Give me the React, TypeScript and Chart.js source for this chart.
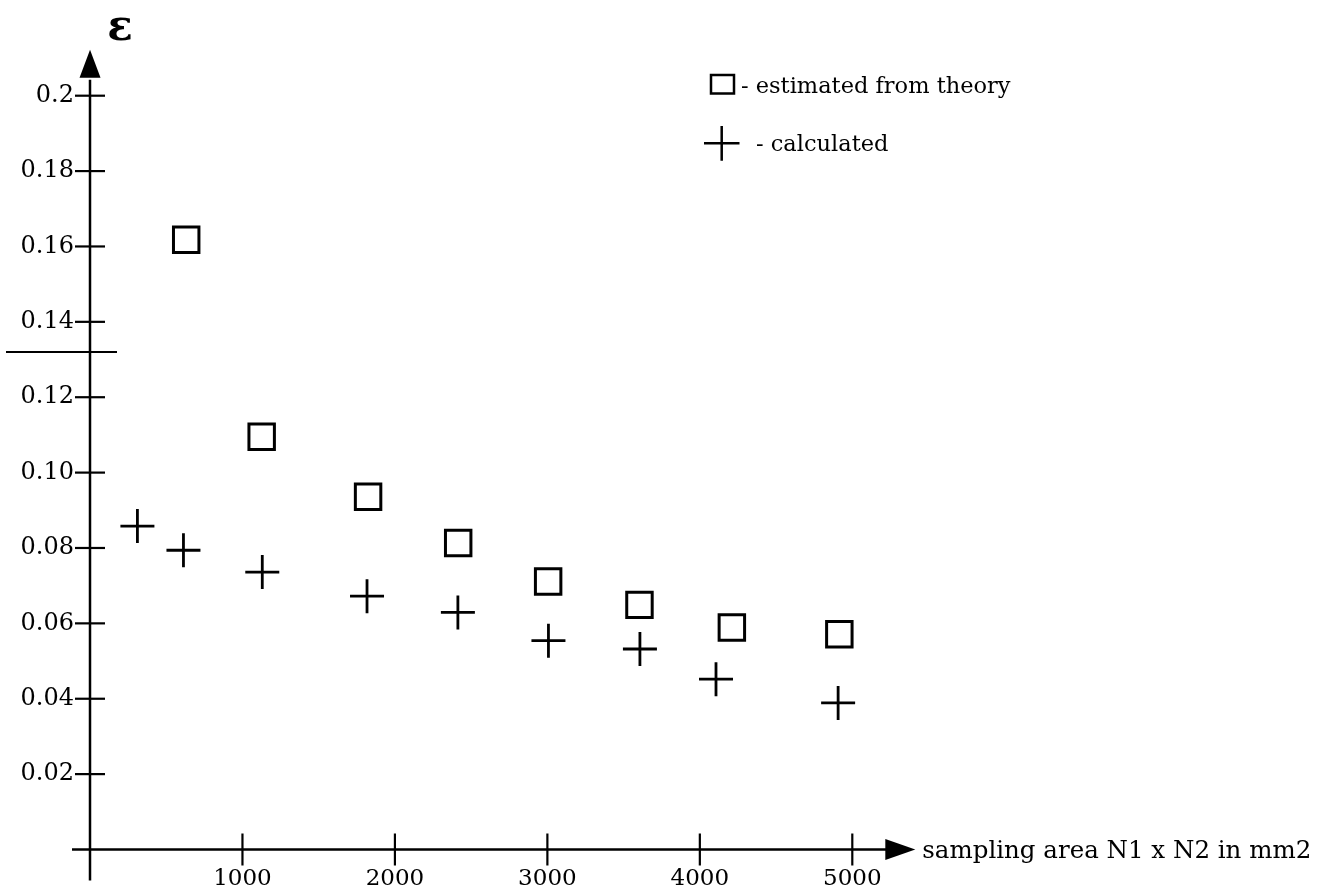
import React, { useEffect, useRef } from 'react';
import { Chart, registerables } from 'chart.js';

Chart.register(...registerables);

// ---- data ----
const theoryX = [631, 1126, 1824, 2415, 3005, 3604, 4210, 4915];
const theoryY = [0.1618, 0.1095, 0.0936, 0.0813, 0.0711, 0.0649, 0.0589, 0.0571];
const calcX = [311, 613, 1130, 1817, 2413, 3007, 3607, 4106, 4907];
const calcY = [0.0858, 0.0794, 0.0736, 0.0672, 0.0629, 0.0554, 0.0532, 0.0452, 0.0389];
const xTicks = [1000, 2000, 3000, 4000, 5000];
const yTicks = [0.02, 0.04, 0.06, 0.08, 0.1, 0.12, 0.14, 0.16, 0.18, 0.2];
const yTickLabels = ['0.02', '0.04', '0.06', '0.08', '0.10', '0.12', '0.14', '0.16', '0.18', '0.2'];
const strayLineValue = 0.132;
const legendLabels = ['- estimated from theory', '- calculated'];
const xTitle = 'sampling area N1 x N2 in mm2';
const yTitle = 'ε';

const FONT = '"DejaVu Serif", serif';

const decoPlugin = {
  id: 'deco',
  afterDraw(chart: any) {
    const { ctx } = chart;
    const xs = chart.scales.x;
    const ys = chart.scales.y;
    const x0 = xs.getPixelForValue(0);
    const y0 = ys.getPixelForValue(0);
    const xEnd = xs.getPixelForValue(5000);
    const yTop = ys.getPixelForValue(0.2);
    ctx.save();
    ctx.strokeStyle = '#000';
    ctx.fillStyle = '#000';
    ctx.lineWidth = 2.5;
    ctx.lineCap = 'butt';

    // x axis line + arrow
    ctx.beginPath();
    ctx.moveTo(x0 - 18, y0);
    ctx.lineTo(xEnd + 36, y0);
    ctx.stroke();
    ctx.beginPath();
    ctx.moveTo(xEnd + 33, y0 - 10.5);
    ctx.lineTo(xEnd + 63, y0);
    ctx.lineTo(xEnd + 33, y0 + 10.5);
    ctx.closePath();
    ctx.fill();

    // y axis line + arrow
    ctx.beginPath();
    ctx.moveTo(x0, y0 + 31);
    ctx.lineTo(x0, yTop - 16);
    ctx.stroke();
    ctx.beginPath();
    ctx.moveTo(x0 - 10.5, yTop - 18);
    ctx.lineTo(x0, yTop - 46);
    ctx.lineTo(x0 + 10.5, yTop - 18);
    ctx.closePath();
    ctx.fill();

    // crossing tick marks
    ctx.lineWidth = 2.2;
    xTicks.forEach((v) => {
      const px = xs.getPixelForValue(v);
      ctx.beginPath();
      ctx.moveTo(px, y0 - 16);
      ctx.lineTo(px, y0 + 16);
      ctx.stroke();
    });
    yTicks.forEach((v) => {
      const py = ys.getPixelForValue(v);
      ctx.beginPath();
      ctx.moveTo(x0 - 15, py);
      ctx.lineTo(x0 + 15, py);
      ctx.stroke();
    });

    // stray horizontal line
    const sy = ys.getPixelForValue(strayLineValue);
    ctx.lineWidth = 2;
    ctx.beginPath();
    ctx.moveTo(6, sy);
    ctx.lineTo(x0 + 27, sy);
    ctx.stroke();

    // y title (epsilon)
    ctx.font = `bold 42px ${FONT}`;
    ctx.textAlign = 'center';
    ctx.textBaseline = 'alphabetic';
    ctx.fillText(yTitle, x0 + 30, yTop - 56);

    // x title
    ctx.font = `24.5px ${FONT}`;
    ctx.textAlign = 'left';
    ctx.fillText(xTitle, xEnd + 70, y0 + 8);

    // legend
    ctx.lineWidth = 2.5;
    ctx.strokeRect(711, 75, 23, 18.5);
    ctx.beginPath();
    ctx.moveTo(704, 143.3);
    ctx.lineTo(739.5, 143.3);
    ctx.moveTo(721.7, 126);
    ctx.lineTo(721.7, 160.7);
    ctx.stroke();
    ctx.font = `22.5px ${FONT}`;
    ctx.fillText(legendLabels[0], 741, 93);
    ctx.fillText(legendLabels[1], 756, 151);

    ctx.restore();
  },
};

export default function App() {
  const ref = useRef<HTMLCanvasElement | null>(null);
  useEffect(() => {
    if (!ref.current) return;
    const chart = new Chart(ref.current, {
      type: 'scatter',
      data: {
        datasets: [
          {
            label: legendLabels[0],
            data: theoryX.map((x, i) => ({ x, y: theoryY[i] })),
            pointStyle: 'rect',
            pointRadius: 18,
            pointHoverRadius: 18,
            borderColor: '#000',
            backgroundColor: 'rgba(0,0,0,0)',
            pointBorderWidth: 3,
            showLine: false,
          },
          {
            label: legendLabels[1],
            data: calcX.map((x, i) => ({ x, y: calcY[i] })),
            pointStyle: 'cross',
            pointRadius: 17,
            pointHoverRadius: 17,
            borderColor: '#000',
            backgroundColor: '#000',
            pointBorderWidth: 2.8,
            showLine: false,
          },
        ],
      },
      options: {
        responsive: false,
        animation: false,
        events: [],
        clip: false,
        layout: { padding: { left: 0, right: 470.7, top: 95.7, bottom: 0 } },
        plugins: {
          legend: { display: false },
          tooltip: { enabled: false },
          title: { display: false },
        },
        scales: {
          x: {
            type: 'linear',
            min: 0,
            max: 5000,
            grid: { display: false, drawTicks: false },
            border: { display: false },
            afterBuildTicks: (scale: any) => {
              scale.ticks = xTicks.map((v) => ({ value: v }));
            },
            afterFit: (scale: any) => {
              scale.height = 44.5;
            },
            ticks: {
              color: '#000',
              padding: 16,
              maxRotation: 0,
              font: { family: FONT, size: 23 },
              callback: (v: any) => String(v),
            },
          },
          y: {
            type: 'linear',
            min: 0,
            max: 0.2,
            grid: { display: false, drawTicks: false },
            border: { display: false },
            afterBuildTicks: (scale: any) => {
              scale.ticks = yTicks.map((v) => ({ value: v }));
            },
            afterFit: (scale: any) => {
              scale.width = 90;
            },
            ticks: {
              color: '#000',
              padding: 16,
              font: { family: FONT, size: 24 },
              callback: (_v: any, i: number) => yTickLabels[i],
            },
          },
        },
      },
      plugins: [decoPlugin],
    });
    return () => chart.destroy();
  }, []);

  return (
    <div style={{ position: 'fixed', left: 0, top: 0, width: 1323, height: 894, background: '#fff' }}>
      <canvas ref={ref} width={1323} height={894} style={{ display: 'block' }} />
    </div>
  );
}
